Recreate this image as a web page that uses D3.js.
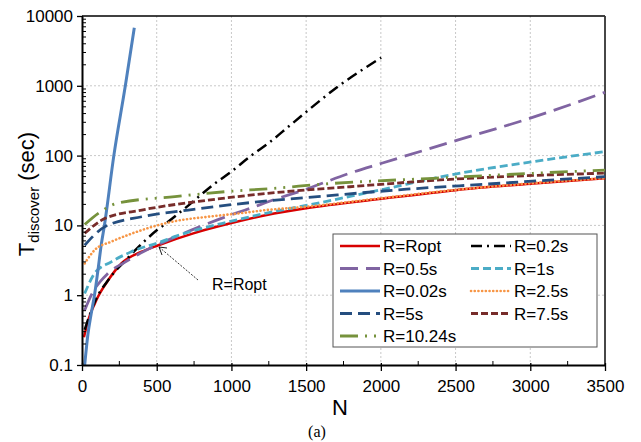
<!DOCTYPE html>
<html>
<head>
<meta charset="utf-8">
<script src="https://d3js.org/d3.v7.min.js"></script>
<style>
  body { margin: 0; background: #fff; }
  text { font-family: "Liberation Sans", Arial, sans-serif; }
</style>
</head>
<body>
<div id="graph"></div>

<script>

// series names (legend order is row by row)
var seriesNames = ["R=Ropt", "R=0.2s", "R=0.5s", "R=1s", "R=0.02s", "R=2.5s", "R=5s", "R=7.5s", "R=10.24s"];

// values: N and T_discover (sec)
var roptN = [13, 42, 87, 107, 176, 265, 399, 511, 745, 1000, 1236, 1500, 2000, 2500, 3000, 3500];
var roptT = [0.25, 0.44, 0.77, 0.95, 1.65, 2.87, 4.2, 5.2, 7.7, 10.8, 14.1, 17.6, 24, 32, 39.5, 47.3];

var r02N = [18, 85, 185, 300, 420, 500, 544, 689, 890, 990, 1133, 1247, 1400, 1720, 2002];
var r02T = [0.32, 0.8, 1.75, 3.3, 6.0, 8.5, 10, 17.6, 40, 57, 100, 150, 280, 1000, 2530];

var r05N = [18, 62, 174, 285, 419, 509, 790, 1057, 1124, 1250, 1500, 1793, 2000, 2507, 3000, 3500];
var r05T = [0.61, 1.0, 2.06, 2.95, 4.3, 5.3, 9.6, 15.7, 17.5, 22, 33, 56, 77, 165, 344, 807];

var r1N = [18, 85, 196, 330, 531, 620, 1000, 1236, 1571, 2017, 2463, 3020, 3500];
var r1T = [1.06, 2.06, 3.0, 4.2, 5.85, 6.9, 11.5, 15, 20.7, 32.9, 52.7, 82, 114];

var r002N = [18, 40, 62, 85, 107, 130, 150, 213, 290, 350];
var r002T = [0.1, 0.28, 0.55, 1.05, 2.3, 5.5, 10, 100, 1000, 6800];

var r25N = [18, 85, 196, 308, 622, 845, 1069, 1236, 1500, 2000, 2500, 3000, 3500];
var r25T = [2.85, 4.45, 5.85, 7.3, 11.5, 13.3, 15, 16.6, 18.5, 24.5, 32.3, 40, 47.5];

var r5N = [18, 154, 400, 711, 1000, 1247, 1500, 2173, 2686, 3500];
var r5T = [5.2, 9.6, 13.3, 16.6, 19.8, 22.5, 25, 33, 38.8, 49.9];

var r75N = [18, 154, 400, 845, 1258, 1793, 2463, 3500];
var r75T = [7.7, 12.6, 16.6, 23, 29, 35.8, 45.7, 56];

var r1024N = [18, 109, 241, 622, 957, 1247, 1682, 2351, 3020, 3500];
var r1024T = [10.3, 14.9, 20.9, 25.8, 30.4, 33.5, 40, 47.3, 55.8, 62];

// axis ticks
var xTicks = [0, 500, 1000, 1500, 2000, 2500, 3000, 3500];
var yTicks = [0.1, 1, 10, 100, 1000, 10000];
var yTickLabels = ["0.1", "1", "10", "100", "1000", "10000"];

// line styles, one per series
var styles = [
  {color: "#d80000", width: 2.5, dash: null},
  {color: "#000000", width: 2.5, dash: "11,5,2,5"},
  {color: "#8064a2", width: 2.8, dash: "18,8"},
  {color: "#4bacc6", width: 2.8, dash: "8,4"},
  {color: "#4f81bd", width: 3, dash: null},
  {color: "#f79646", width: 2.6, dash: "0.1,3.6", round: true},
  {color: "#254e7f", width: 2.8, dash: "12,6"},
  {color: "#772c2a", width: 2.8, dash: "7,3"},
  {color: "#76923c", width: 2.8, dash: "18,7,2,7,2,7"}
];

var allN = [roptN, r02N, r05N, r1N, r002N, r25N, r5N, r75N, r1024N];
var allT = [roptT, r02T, r05T, r1T, r002T, r25T, r5T, r75T, r1024T];

var series = seriesNames.map(function(name, i) {
  return {
    name: name,
    style: styles[i],
    values: allN[i].map(function(n, j) { return {n: n, t: allT[i][j]}; })
  };
});

// set the dimensions and margins of the graph
var W = 641, H = 442;
var margin = {top: 16, right: 36, bottom: 77, left: 82},
  width = W - margin.left - margin.right,
  height = H - margin.top - margin.bottom;

var svg = d3.select("#graph")
  .append("svg")
    .attr("width", W)
    .attr("height", H);

var g = svg.append("g")
    .attr("transform", "translate(" + margin.left + "," + margin.top + ")");

var x = d3.scaleLinear().domain([0, 3500]).range([0, width]);
var y = d3.scaleLog().domain([0.1, 10000]).range([height, 0]);

// dotted grid
g.selectAll(".vgrid")
  .data(xTicks.slice(1, -1))
  .enter().append("line")
    .attr("x1", function(d) { return x(d); })
    .attr("x2", function(d) { return x(d); })
    .attr("y1", 0).attr("y2", height)
    .style("stroke", "#c8c8c8")
    .style("stroke-width", 1)
    .style("stroke-dasharray", "2,2");

g.selectAll(".hgrid")
  .data(yTicks.slice(1, -1))
  .enter().append("line")
    .attr("x1", 0).attr("x2", width)
    .attr("y1", function(d) { return y(d); })
    .attr("y2", function(d) { return y(d); })
    .style("stroke", "#c8c8c8")
    .style("stroke-width", 1)
    .style("stroke-dasharray", "2,2");

// top and right border
g.append("line").attr("x1", 0).attr("x2", width).attr("y1", 0).attr("y2", 0)
  .style("stroke", "#000").style("stroke-width", 1.5);
g.append("line").attr("x1", width).attr("x2", width).attr("y1", 0).attr("y2", height)
  .style("stroke", "#333").style("stroke-width", 1.8);

// the curves
var line = d3.line()
  .curve(d3.curveMonotoneX)
  .x(function(d) { return x(d.n); })
  .y(function(d) { return y(d.t); });

g.selectAll(".series")
  .data(series)
  .enter().append("path")
    .attr("d", function(d) { return line(d.values); })
    .style("fill", "none")
    .style("stroke", function(d) { return d.style.color; })
    .style("stroke-width", function(d) { return d.style.width; })
    .style("stroke-dasharray", function(d) { return d.style.dash; })
    .style("stroke-linecap", function(d) { return d.style.round ? "round" : "butt"; });

// x axis: major ticks cross the line, minor ticks inside
var xAxis = g.append("g")
    .attr("transform", "translate(0," + height + ")")
    .call(d3.axisBottom(x).tickValues(xTicks).tickFormat(d3.format("d"))
      .tickSizeInner(6).tickSizeOuter(0).tickPadding(9));
xAxis.select(".domain").style("stroke", "#000").style("stroke-width", 2);
xAxis.selectAll(".tick line").attr("y1", -2).style("stroke-width", 1.3);
xAxis.selectAll("text").style("font-size", "17px").style("fill", "#000")
  .style("font-family", "'Liberation Sans', Arial, sans-serif");

var xMinor = d3.range(250, 3500, 500);
g.selectAll(".xminor")
  .data(xMinor)
  .enter().append("line")
    .attr("x1", function(d) { return x(d); })
    .attr("x2", function(d) { return x(d); })
    .attr("y1", height - 4).attr("y2", height)
    .style("stroke", "#000").style("stroke-width", 1);

// y axis (log)
var yAxis = g.append("g")
    .call(d3.axisLeft(y).tickValues(yTicks)
      .tickFormat(function(d, i) { return yTickLabels[i]; })
      .tickSizeInner(5).tickSizeOuter(0).tickPadding(4));
yAxis.select(".domain").style("stroke", "#000").style("stroke-width", 2);
yAxis.selectAll(".tick line").attr("x1", 1).style("stroke-width", 1.3);
yAxis.selectAll("text").style("font-size", "17px").style("fill", "#000")
  .style("font-family", "'Liberation Sans', Arial, sans-serif");

var yMinor = [];
yTicks.slice(0, -1).forEach(function(t) {
  for (var k = 2; k <= 9; k++) yMinor.push(t * k);
});
g.selectAll(".yminor")
  .data(yMinor)
  .enter().append("line")
    .attr("x1", 0).attr("x2", 4)
    .attr("y1", function(d) { return y(d); })
    .attr("y2", function(d) { return y(d); })
    .style("stroke", "#000").style("stroke-width", 1);

// axis titles
svg.append("text")
    .attr("x", 340).attr("y", 415)
    .style("text-anchor", "middle")
    .style("font-size", "22px")
    .text("N");

var yTitle = svg.append("text")
    .attr("transform", "translate(34,194) rotate(-90)")
    .style("text-anchor", "middle")
    .style("font-size", "22px");
yTitle.append("tspan").text("T");
yTitle.append("tspan").attr("dy", 5).style("font-size", "15px").text("discover");
yTitle.append("tspan").attr("dy", -5).text(" (sec)");

svg.append("text")
    .attr("x", 317).attr("y", 437)
    .style("text-anchor", "middle")
    .style("font-family", "'Liberation Serif', 'Times New Roman', serif")
    .style("font-size", "16px")
    .text("(a)");

// annotation arrow for R=Ropt
svg.append("line")
    .attr("x1", 198).attr("y1", 280).attr("x2", 159).attr("y2", 247)
    .style("stroke", "#000").style("stroke-width", 0.8).style("stroke-dasharray", "2,1.5");
svg.append("path")
    .attr("d", "M167,248 L159,247 L162,255")
    .style("fill", "none").style("stroke", "#000").style("stroke-width", 0.9);
svg.append("text")
    .attr("x", 212).attr("y", 290)
    .style("font-size", "16px")
    .text("R=Ropt");

// legend
var legX = 333, legY = 234, legW = 264, legH = 113;
var legend = svg.append("g");
legend.append("rect")
    .attr("x", legX).attr("y", legY).attr("width", legW).attr("height", legH)
    .style("fill", "#fff").style("stroke", "#555").style("stroke-width", 1);

var items = legend.selectAll(".item")
  .data(series)
  .enter().append("g")
    .attr("transform", function(d, i) {
      var col = i % 2, row = Math.floor(i / 2);
      return "translate(" + (legX + 7 + col * 131) + "," + (legY + 12 + row * 22.5) + ")";
    });

items.append("line")
    .attr("x1", 0).attr("x2", 40).attr("y1", 0).attr("y2", 0)
    .style("stroke", function(d) { return d.style.color; })
    .style("stroke-width", function(d) { return d.style.width; })
    .style("stroke-dasharray", function(d) { return d.style.dash; })
    .style("stroke-linecap", function(d) { return d.style.round ? "round" : "butt"; });

items.append("text")
    .attr("x", 43).attr("y", 6)
    .style("font-size", "17px")
    .text(function(d) { return d.name; });

</script>
</body>
</html>
